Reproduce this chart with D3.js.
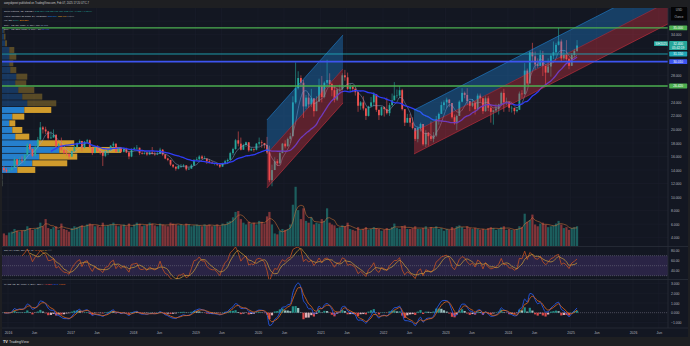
<!DOCTYPE html>
<html><head><meta charset="utf-8">
<script src="https://cdn.jsdelivr.net/npm/d3@7"></script>
<style>
html,body{margin:0;padding:0;background:#1e1f22;}
svg{display:block;font-family:"Liberation Sans",Arial,sans-serif;}
</style></head><body>
<svg id="c" width="690" height="346"></svg>
<script>
// ---------------- DATA (semi-monthly bars) ----------------
const startYear = 2015, startMonth = 11;   // first bar: Dec 2015 (first half)
const firstOpen = 14.3;
const closes = [
 14.0,13.8,
 14.0,14.3,15.6,14.8,15.5,15.4,16.2,17.8,17.1,16.1,17.4,18.5,20.3,20.0,19.7,18.7,18.8,19.2,17.5,17.8,17.0,16.5,16.4,16.0,
 16.8,17.4,18.0,18.3,17.3,18.2,18.4,17.3,16.5,17.3,16.8,16.6,16.1,16.8,16.9,17.6,17.9,16.7,17.2,16.7,17.1,16.6,16.0,17.1,
 17.2,17.3,16.5,16.4,16.5,16.3,16.6,16.4,16.3,16.4,17.0,16.3,15.7,15.5,14.8,14.5,14.2,14.6,14.6,14.7,14.1,14.2,14.7,15.5,
 15.6,16.0,15.7,15.7,15.3,15.1,15.0,15.0,14.8,14.5,14.9,15.3,15.5,16.5,17.1,18.4,17.9,17.0,17.7,18.1,16.9,17.1,17.0,17.9,
 18.1,18.0,17.7,16.6,12.5,14.0,15.3,15.0,16.5,17.9,17.5,18.6,19.0,24.0,26.1,27.6,26.9,23.4,24.7,23.7,24.6,22.7,24.1,26.4,
 24.8,26.9,27.3,26.7,25.8,24.4,25.9,25.9,28.0,27.7,26.0,26.3,26.0,25.5,23.5,24.0,23.1,22.0,23.4,24.0,25.2,22.9,22.1,23.3,
 23.0,22.4,23.6,24.3,25.0,25.0,25.8,23.0,21.0,21.7,21.0,20.2,18.6,20.2,20.8,17.8,19.5,19.0,18.6,19.1,21.5,22.3,23.6,24.0,
 24.4,23.9,21.8,20.9,22.0,24.1,25.4,25.1,24.2,23.5,23.9,23.0,25.0,24.6,22.7,24.6,23.2,22.6,22.8,23.1,23.7,25.4,24.0,24.1,
 23.2,23.2,22.7,22.9,25.3,25.2,28.7,26.8,31.4,30.8,29.6,29.4,31.0,29.4,28.4,29.3,30.9,31.4,32.5,33.0,30.5,31.0,30.4,29.4,
 31.0,31.6,32.4
];
const highs = [
 14.6,14.3,
 14.2,14.6,15.9,15.5,15.9,16.0,16.4,18.0,17.9,17.2,17.7,18.9,21.1,20.5,20.4,19.8,19.7,20.0,19.3,18.0,18.8,17.0,17.2,16.4,
 16.9,17.6,18.1,18.5,18.1,18.3,18.6,18.5,17.0,17.5,17.7,16.9,16.6,16.9,17.2,17.7,18.2,17.9,17.3,17.4,17.3,17.3,16.7,17.2,
 17.4,17.7,17.3,16.9,16.7,16.7,16.8,17.4,16.7,16.7,17.3,17.1,16.2,15.8,15.5,14.8,14.5,14.8,14.9,14.9,14.6,14.4,14.9,15.6,
 15.9,16.2,16.2,16.1,15.4,15.6,15.3,15.1,15.0,14.6,15.1,15.5,15.7,16.7,17.3,18.6,19.7,18.8,17.9,18.2,18.1,17.3,17.2,18.0,
 18.8,18.4,18.0,18.9,17.6,14.8,15.9,15.6,16.7,18.0,18.4,18.8,19.5,24.9,29.9,28.6,28.0,27.3,25.1,25.4,26.0,24.6,24.9,27.5,
 27.9,27.1,30.3,28.3,26.9,26.4,26.0,26.6,28.3,28.8,28.4,26.7,26.5,26.2,25.6,24.2,24.9,23.2,23.5,24.8,25.5,25.2,22.8,23.4,
 23.4,24.7,23.9,25.3,27.0,25.9,26.4,26.0,22.9,22.3,22.3,21.8,20.0,20.4,21.0,20.4,19.9,19.6,21.2,19.6,22.0,22.5,24.1,24.3,
 24.7,24.5,23.9,22.2,22.2,24.3,26.1,25.6,26.1,24.2,24.5,24.2,25.3,25.3,24.7,24.9,24.9,23.6,22.9,23.8,23.8,25.6,26.0,24.7,
 24.0,23.5,23.2,23.3,25.6,25.8,29.8,29.0,31.6,32.8,31.5,30.5,31.7,31.6,29.3,30.5,31.2,33.0,32.8,35.0,33.3,31.7,33.2,30.6,
 31.3,31.9,33.2
];
const lows = [
 13.7,13.6,
 13.6,13.9,14.3,14.6,14.9,15.1,14.9,16.3,16.9,15.9,16.0,17.0,18.4,19.4,19.3,18.5,18.6,18.9,17.2,17.3,16.8,16.3,16.1,15.6,
 15.9,16.7,17.3,17.9,16.8,17.2,17.9,17.2,16.2,16.5,16.7,16.3,14.6,15.9,16.2,16.9,17.4,16.6,16.6,16.6,16.6,16.5,15.6,15.9,
 16.9,17.0,16.2,16.3,16.3,16.1,16.2,16.3,16.1,16.2,16.4,16.1,15.6,15.3,14.6,14.3,13.9,14.1,14.3,14.4,13.9,14.0,14.3,14.6,
 15.4,15.2,15.6,15.6,14.9,15.0,14.9,14.7,14.6,14.3,14.5,14.9,14.9,15.6,16.2,17.0,17.5,16.9,17.1,17.4,16.7,16.8,16.7,16.9,
 17.6,17.3,17.2,16.4,12.2,11.6,14.2,14.6,14.8,16.6,17.2,17.5,18.0,19.3,23.8,25.9,26.3,21.7,23.0,23.2,23.3,21.9,23.3,25.3,
 24.0,24.6,26.2,26.2,24.9,24.0,24.2,25.5,26.0,27.2,25.8,25.6,25.5,25.0,22.6,22.9,22.8,21.4,21.9,23.3,23.4,22.6,21.4,22.0,
 21.9,22.2,22.0,23.4,24.3,24.6,24.6,22.8,20.5,21.0,20.4,20.0,18.3,18.1,19.7,17.6,17.4,17.6,18.3,18.1,18.9,20.7,22.3,22.8,
 23.2,23.3,21.6,20.7,19.9,22.0,24.0,24.6,23.6,22.7,23.3,22.2,22.8,24.0,22.3,22.6,22.7,21.0,20.7,22.5,22.2,23.6,22.6,23.6,
 22.6,22.5,22.2,22.5,23.0,24.6,25.3,26.5,26.8,30.0,28.8,29.1,29.6,27.9,26.6,28.5,27.8,30.4,30.9,32.4,30.1,30.3,30.2,28.9,
 29.5,30.6,31.4
];
const volumes = [ // K
 70,60,
 75,80,95,85,80,85,90,110,100,90,95,105,130,110,150,100,95,105,110,90,125,95,90,80,
 100,110,105,110,115,110,120,125,120,110,115,105,130,110,115,120,130,115,110,115,120,110,125,105,
 120,130,125,110,115,120,130,125,115,110,125,120,115,110,130,125,120,115,120,115,125,120,110,115,
 120,115,110,120,115,120,110,115,120,110,125,120,135,140,160,190,195,150,130,120,135,125,130,120,
 140,135,125,165,190,120,70,65,85,95,90,95,120,230,330,200,150,210,140,130,160,120,130,125,
 150,140,210,130,120,115,100,105,115,110,130,95,90,85,105,90,95,105,90,95,105,100,95,85,
 90,100,95,105,125,100,95,110,115,95,95,100,110,95,95,100,110,95,105,100,110,95,100,85,
 95,90,105,95,110,115,105,95,110,100,95,100,95,90,95,90,100,105,100,90,95,105,110,90,
 95,90,90,95,110,105,180,135,145,175,120,110,125,130,120,105,110,115,125,140,120,100,105,90,
 100,105,110
];
// Visible-range volume profile (24 rows, bottom -> top), K contracts
const vpLow = 11.55, vpHigh = 35.19;
const vpUp   = [5,5,153,303,373,573,353,133,103,73,103,223,253,203,163,133,143,83,73,73,73,30,20,15];
const vpDown = [5,5,180,350,380,620,370,140,100,60,120,270,290,200,160,110,110,60,40,70,50,20,15,10];
const vpValueArea = [2, 11];
// Regression-trend channels: start/end dates, base-line prices, deviation
const chanDates = [["2020-02-22","2021-05-12"],["2022-07-01","2025-04-23"]];
const chanBase  = [[16.37,28.93],[19.62,32.92]];
const chanDev   = [5.02, 3.25];
const chanExtendRight = [false, true];
// Horizontal lines
const hLines = [35.0, 31.15, 30.01, 26.42];
// Axis ticks
const priceTicks = [4,6,8,10,12,14,16,18,20,22,24,26,28,30,32,34,36];
const rsiTicks = [80,60,40];
const macdTicks = [3,2,1,0,-1];
const tickYears = [2016,2017,2018,2019,2020,2021,2022,2023,2024,2025,2026];
const tickMonthLabel = "Jun";

// ---------------- LAYOUT ----------------
const svg = d3.select("#c");
const L = 2, R = 668, RR = 688;
const mainTop = 8, mainBot = 246.5, rsiTop = 246.5, rsiBot = 279.5, macdTop = 279.5, macdBot = 328, axisBot = 337;
const bg = "#131722", gridC = "#1b1f2b", sepC = "#2a2e39", txt = "#b2b5be";

svg.append("rect").attr("width",690).attr("height",346).attr("fill","#1e1f22");
svg.append("rect").attr("x",L).attr("y",mainTop).attr("width",RR-L).attr("height",axisBot-mainTop).attr("fill",bg);

const defs = svg.append("defs");
function clip(id,y0,y1){defs.append("clipPath").attr("id",id).append("rect").attr("x",L).attr("y",y0).attr("width",R-L).attr("height",y1-y0);}
clip("cm",mainTop,mainBot); clip("cr",rsiTop,rsiBot); clip("cd",macdTop,macdBot);

// ---------------- SCALES ----------------
const x = d3.scaleTime().domain([new Date(2016,0,1), new Date(2026,0,1)]).range([8, 633]);
const y = d3.scaleLinear().domain([4,34]).range([237.7,34.7]);
const yVol = d3.scaleLinear().domain([0,340]).range([mainBot-0.5, 185]);
const yRsi = d3.scaleLinear().domain([30,70]).range([275.7,255.7]);
const yMacd = d3.scaleLinear().domain([-1,3]).range([322.4,283.6]);

const bars = closes.map((c,i)=>{
  const m = startMonth + Math.floor(i/2);
  const date = new Date(startYear, m, i%2 ? 23 : 8);
  const o = i===0 ? firstOpen : closes[i-1];
  return {date, o, c, h: Math.max(highs[i],o,c), l: Math.min(lows[i],o,c), v: volumes[i]};
});

// ---------------- indicators ----------------
function sma(vals,n){return vals.map((v,i)=>{if(i<n-1)return null;const s=vals.slice(i-n+1,i+1);if(s.some(a=>a==null))return null;return d3.mean(s);});}
function ema(vals,n){const k=2/(n+1);let e=null;return vals.map(v=>{if(v==null)return null;e=e==null?v:v*k+e*(1-k);return e;});}
function rsi(vals,n){const out=vals.map(()=>null);let ag=0,al=0;for(let i=1;i<vals.length;i++){const ch=vals[i]-vals[i-1],g=Math.max(ch,0),l=Math.max(-ch,0);if(i<=n){ag+=g/n;al+=l/n;if(i===n)out[i]=al===0?100:100-100/(1+ag/al);}else{ag=(ag*(n-1)+g)/n;al=(al*(n-1)+l)/n;out[i]=al===0?100:100-100/(1+ag/al);}}return out;}
const smaFast = sma(closes,5), smaSlow = sma(closes,19);
const volMa = sma(volumes,4);
const rsiV = rsi(closes,7), rsiMa = sma(rsiV,4);
const emaF = ema(closes,3), emaS = ema(closes,7);
const macd = emaF.map((v,i)=>v-emaS[i]);
const signal = ema(macd,3);
const hist = macd.map((v,i)=>v-signal[i]);

// ---------------- GRID ----------------
const timeTicks = [];
tickYears.forEach(yr=>{timeTicks.push(new Date(yr,0,1)); timeTicks.push(new Date(yr,5,1));});
const grid = svg.append("g");
timeTicks.forEach(t=>{grid.append("line").attr("x1",x(t)).attr("x2",x(t)).attr("y1",mainTop).attr("y2",macdBot).attr("stroke",gridC).attr("stroke-width",0.6);});
priceTicks.forEach(p=>{const yy=y(p); if(yy>mainTop&&yy<mainBot) grid.append("line").attr("x1",L).attr("x2",R).attr("y1",yy).attr("y2",yy).attr("stroke",gridC).attr("stroke-width",0.6);});
macdTicks.forEach(p=>{grid.append("line").attr("x1",L).attr("x2",R).attr("y1",yMacd(p)).attr("y2",yMacd(p)).attr("stroke",gridC).attr("stroke-width",0.6);});

// ---------------- MAIN PANE ----------------
const main = svg.append("g").attr("clip-path","url(#cm)");

// volume profile
const nRows = vpUp.length, rowH = (vpHigh-vpLow)/nRows;
const vpMax = d3.max(vpUp.map((u,i)=>u+vpDown[i]));
const vpW = d3.scaleLinear().domain([0,vpMax]).range([0,(R-L)*0.179]);
vpUp.forEach((u,i)=>{
  const inVA = i>=vpValueArea[0] && i<=vpValueArea[1];
  const y0 = y(vpLow+(i+1)*rowH)+0.35, y1 = y(vpLow+i*rowH)-0.35;
  main.append("rect").attr("x",L).attr("y",y0).attr("width",vpW(u)).attr("height",y1-y0)
    .attr("fill", inVA ? "rgba(41,146,235,0.85)" : "rgba(33,120,220,0.33)");
  main.append("rect").attr("x",L+vpW(u)).attr("y",y0).attr("width",vpW(vpDown[i])).attr("height",y1-y0)
    .attr("fill", inVA ? "rgba(235,174,45,0.88)" : "rgba(230,180,50,0.33)");
});

// volume
main.selectAll(".vb").data(bars).enter().append("rect")
  .attr("x",d=>x(d.date)-1.1).attr("width",2.2)
  .attr("y",d=>yVol(d.v)).attr("height",d=>yVol(0)-yVol(d.v))
  .attr("fill",d=>d.c>=d.o?"rgba(38,166,154,0.5)":"rgba(239,83,80,0.5)");
main.append("path").datum(bars.map((d,i)=>({date:d.date,v:volMa[i]})))
  .attr("d",d3.line().defined(d=>d.v!=null).x(d=>x(d.date)).y(d=>yVol(d.v)))
  .attr("fill","none").attr("stroke","#e07b39").attr("stroke-width",0.6).attr("opacity",0.85);

// candles
const cg = main.append("g");
bars.forEach(d=>{
  const col = d.c>=d.o ? "#26a69a" : "#ef5350";
  cg.append("line").attr("x1",x(d.date)).attr("x2",x(d.date)).attr("y1",y(d.h)).attr("y2",y(d.l)).attr("stroke",col).attr("stroke-width",0.6);
  const yt=y(Math.max(d.o,d.c)), yb=y(Math.min(d.o,d.c));
  cg.append("rect").attr("x",x(d.date)-0.9).attr("width",1.8).attr("y",yt).attr("height",Math.max(0.5,yb-yt)).attr("fill",col);
});

// moving averages
main.append("path").datum(bars.map((d,i)=>({date:d.date,v:smaFast[i]})))
  .attr("d",d3.line().defined(d=>d.v!=null).x(d=>x(d.date)).y(d=>y(d.v)).curve(d3.curveMonotoneX))
  .attr("fill","none").attr("stroke","#8fa6cc").attr("stroke-width",0.6).attr("opacity",0.8);
main.append("path").datum(bars.map((d,i)=>({date:d.date,v:smaSlow[i]})))
  .attr("d",d3.line().defined(d=>d.v!=null).x(d=>x(d.date)).y(d=>y(d.v)).curve(d3.curveMonotoneX))
  .attr("fill","none").attr("stroke","#2f3cf5").attr("stroke-width",1.3);

// channels
const pDate = d3.timeParse("%Y-%m-%d");
chanDates.forEach((cd,i)=>{
  const t0=pDate(cd[0]), t1=pDate(cd[1]);
  const p0=chanBase[i][0], p1=chanBase[i][1], dev=chanDev[i];
  const slope=(p1-p0)/(t1-t0);
  const tE = chanExtendRight[i] ? x.invert(R+2) : t1;
  const pE = p0 + slope*(tE-t0);
  const poly = pts=>pts.map(p=>[x(p[0]),y(p[1])].join(",")).join(" ");
  main.append("polygon").attr("points",poly([[t0,p0],[tE,pE],[tE,pE+dev],[t0,p0+dev]])).attr("fill","rgba(33,150,243,0.32)");
  main.append("polygon").attr("points",poly([[t0,p0-dev],[tE,pE-dev],[tE,pE],[t0,p0]])).attr("fill","rgba(242,54,69,0.33)");
  const ln=(a,b,c)=>main.append("line").attr("x1",x(t0)).attr("y1",y(a)).attr("x2",x(tE)).attr("y2",y(b)).attr("stroke",c).attr("stroke-width",0.6);
  ln(p0+dev,pE+dev,"rgba(33,150,243,0.8)");
  ln(p0,pE,"rgba(242,54,69,0.6)");
  ln(p0-dev,pE-dev,"rgba(242,54,69,0.8)");
});

// horizontal lines
const hColors = ["#4caf50","#1fa8b8","#3d55f0","#4caf50"], hWidth=[1.3,0.9,1.8,1.3];
hLines.forEach((p,i)=>{main.append("line").attr("x1",L).attr("x2",R).attr("y1",y(p)).attr("y2",y(p)).attr("stroke",hColors[i]).attr("stroke-width",hWidth[i]);});

// ---------------- RSI PANE ----------------
const rg = svg.append("g").attr("clip-path","url(#cr)");
rg.append("rect").attr("x",L).attr("width",R-L).attr("y",yRsi(70)).attr("height",yRsi(30)-yRsi(70)).attr("fill","rgba(126,87,194,0.22)");
[70,50,30].forEach(v=>rg.append("line").attr("x1",L).attr("x2",R).attr("y1",yRsi(v)).attr("y2",yRsi(v)).attr("stroke","#787b86").attr("stroke-width",0.5).attr("stroke-dasharray","1,1"));
rg.append("path").datum(bars.map((d,i)=>({date:d.date,v:rsiV[i]})))
  .attr("d",d3.line().defined(d=>d.v!=null).x(d=>x(d.date)).y(d=>yRsi(d.v)))
  .attr("fill","none").attr("stroke","#d9571e").attr("stroke-width",0.7);
rg.append("path").datum(bars.map((d,i)=>({date:d.date,v:rsiMa[i]})))
  .attr("d",d3.line().defined(d=>d.v!=null).x(d=>x(d.date)).y(d=>yRsi(d.v)).curve(d3.curveMonotoneX))
  .attr("fill","none").attr("stroke","#d4a33a").attr("stroke-width",0.7);

// ---------------- MACD PANE ----------------
const mg = svg.append("g").attr("clip-path","url(#cd)");
mg.append("line").attr("x1",L).attr("x2",R).attr("y1",yMacd(0)).attr("y2",yMacd(0)).attr("stroke","#787b86").attr("stroke-width",0.5).attr("stroke-dasharray","1,1");
bars.forEach((d,i)=>{
  const h=hist[i], prev=i?hist[i-1]:0;
  const col = h>=0 ? (h>=prev?"#26a69a":"#b2dfdb") : (h<prev?"#ff5252":"#ffcdd2");
  const y0=yMacd(Math.max(h,0)), y1=yMacd(Math.min(h,0));
  mg.append("rect").attr("x",x(d.date)-1.1).attr("width",2.2).attr("y",y0).attr("height",Math.max(0.3,y1-y0)).attr("fill",col).attr("opacity",0.85);
});
mg.append("path").datum(bars.map((d,i)=>({date:d.date,v:macd[i]})))
  .attr("d",d3.line().x(d=>x(d.date)).y(d=>yMacd(d.v)).curve(d3.curveMonotoneX))
  .attr("fill","none").attr("stroke","#2962ff").attr("stroke-width",0.8);
mg.append("path").datum(bars.map((d,i)=>({date:d.date,v:signal[i]})))
  .attr("d",d3.line().x(d=>x(d.date)).y(d=>yMacd(d.v)).curve(d3.curveMonotoneX))
  .attr("fill","none").attr("stroke","#e8691a").attr("stroke-width",0.8);

// ---------------- SEPARATORS ----------------
[rsiTop, macdTop, macdBot].forEach(yy=>svg.append("line").attr("x1",L).attr("x2",RR).attr("y1",yy).attr("y2",yy).attr("stroke",sepC).attr("stroke-width",0.8));
svg.append("line").attr("x1",R).attr("x2",R).attr("y1",mainTop).attr("y2",macdBot).attr("stroke",sepC).attr("stroke-width",0.8);

// ---------------- AXES ----------------
const lastClose = closes[closes.length-1];
const labelYs = [y(lastClose)].concat(hLines.map(y));
const shownTicks = priceTicks.filter(p=>{const yy=y(p); return yy>22 && yy<mainBot-4 && labelYs.every(l=>Math.abs(l-yy)>5.5);});
const pa = svg.append("g").attr("transform",`translate(${R},0)`)
  .call(d3.axisRight(y).tickValues(shownTicks).tickSize(0).tickPadding(3).tickFormat(d3.format(".3f")));
const ra = svg.append("g").attr("transform",`translate(${R},0)`)
  .call(d3.axisRight(yRsi).tickValues(rsiTicks).tickSize(0).tickPadding(3).tickFormat(d3.format(".2f")));
const ma = svg.append("g").attr("transform",`translate(${R},0)`)
  .call(d3.axisRight(yMacd).tickValues(macdTicks).tickSize(0).tickPadding(3).tickFormat(d3.format(".3f")));
const ta = svg.append("g").attr("transform",`translate(0,${macdBot})`)
  .call(d3.axisBottom(x).tickValues(timeTicks).tickSize(0).tickFormat(t=>t.getMonth()===0?d3.timeFormat("%Y")(t):tickMonthLabel));
[pa,ra,ma,ta].forEach(g=>{g.select(".domain").remove(); g.selectAll("text").attr("fill",txt).attr("font-size","3.4px").attr("font-family","Liberation Sans, Arial, sans-serif");});
ta.selectAll("text").attr("y",5.3).attr("dy","0.35em");

// price labels
function priceLabel(p,fill,lines,h){
  const yy=y(p);
  svg.append("rect").attr("x",R+1.2).attr("y",yy-h/2).attr("width",18).attr("height",h).attr("rx",0.6).attr("fill",fill);
  lines.forEach((t,k)=>svg.append("text").attr("x",R+10.2).attr("y",yy-h/2+2.4+k*4.2).attr("dy","0.35em").attr("text-anchor","middle")
    .attr("fill","#fff").attr("font-size","3.2px").text(t));
}
const f3 = d3.format(".3f");
hLines.forEach((p,i)=>priceLabel(p,hColors[i],[f3(p)],4.8));
priceLabel(lastClose,"#26a69a",[f3(lastClose),"05:42:19"],9);
svg.append("rect").attr("x",R-14).attr("y",y(lastClose)-4.2).attr("width",14).attr("height",4.6).attr("rx",0.5).attr("fill","#26a69a");
svg.append("text").attr("x",R-7).attr("y",y(lastClose)-1.9).attr("dy","0.35em").attr("text-anchor","middle").attr("fill","#fff").attr("font-size","3px").text("SIH2025");
// unit box
svg.append("rect").attr("x",671).attr("y",7).attr("width",16).attr("height",13.5).attr("fill","#050506");
svg.append("text").attr("x",679).attr("y",11.3).attr("text-anchor","middle").attr("fill",txt).attr("font-size","3px").text("USD");
svg.append("text").attr("x",679).attr("y",17.6).attr("text-anchor","middle").attr("fill",txt).attr("font-size","3px").text("Ounce");

// ---------------- LEGENDS ----------------
function legend(yy,parts,fs){
  const t=svg.append("text").attr("x",4).attr("y",yy).attr("dy","0.35em").attr("font-size",fs||"2.45px").attr("fill","#d1d4dc");
  parts.forEach(p=>t.append("tspan").attr("fill",p[1]||"#d1d4dc").text(p[0]));
}
svg.append("text").attr("x",4).attr("y",3.4).attr("dy","0.35em").attr("font-size","2.7px").attr("fill","#c9c9c9")
  .text("aveysbjeeet published on TradingView.com, Feb 07, 2025 17:20 UTC-7");
legend(11.4,[["Silver Futures, 1D, COMEX  "],["O32.050 H32.955 L31.650 C32.400 +0.385 (+1.20%)","#26a69a"]]);
legend(15.8,[["VRVP (Number Of Rows, 24, Up/Down)  "],["105.90K ","#2196f3"],["405.44K ","#fbc02d"],["1.56M","#9598a1"]]);
legend(20.3,[["Vol (20)  "],["291K ","#26a69a"],["295.85K","#ff9800"]]);
legend(24.8,[["SMA · 1D (50, close, 0, SMA, 50)  "],["31.737","#8fa6cc"]]);
legend(29.6,[["SMA · 1D (200, close, 0, SMA, 10)  "],["30.467","#3f51f5"]]);
legend(250.2,[["RSI (14, close, SMA, 14, 2)  "],["48.33 ","#e0651f"],["53.30 ","#d4a33a"],["∅ ∅","#787b86"]]);
legend(283.8,[["MACD (12, 26, close, 9, EMA, EMA)  "],["−0.050 ","#ff5252"],["0.547 ","#2962ff"],["0.598","#e8691a"]]);

// bottom bar logo
svg.append("text").attr("x",3).attr("y",341.8).attr("dy","0.35em").attr("font-size","3.8px").attr("font-weight","bold").attr("fill","#e0e0e0").text("TV");
svg.append("text").attr("x",9).attr("y",341.8).attr("dy","0.35em").attr("font-size","3.6px").attr("fill","#d8d8d8").text("TradingView");
</script></body></html>
